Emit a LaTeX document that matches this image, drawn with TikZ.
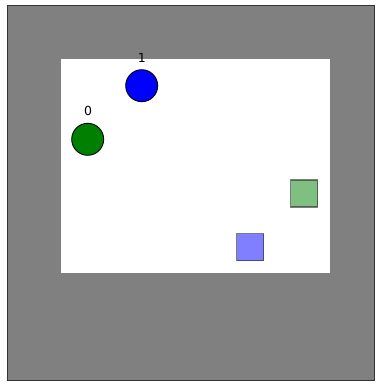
\documentclass[tikz,border=0pt]{standalone}
\usepackage{fontspec}
\setmainfont{DejaVu Sans}
\begin{document}
\begin{tikzpicture}[x=1pt,y=-1pt,
  agent/.style={circle,draw=black,line width=0.9pt,minimum size=32pt,inner sep=0pt},
  goal/.style={rectangle,draw,line width=1.1pt,minimum size=27pt,inner sep=0pt,fill opacity=0.5,draw opacity=0.6},
  lbl/.style={font=\fontsize{12.5}{13}\selectfont,inner sep=0pt}]
\useasboundingbox (0,0) rectangle (375,382);
\fill[white] (0,0) rectangle (375,382);
\node[draw=black!80,fill=black!50,line width=0.8pt,minimum width=367pt,minimum height=375pt,inner sep=0pt] (frame) at (190.5,193) {};
\node[fill=white,minimum width=269pt,minimum height=214pt,inner sep=0pt] (arena) at (195.5,166) {};
\node[goal,fill={rgb,255:red,0;green,128;blue,0},draw=black!85] (g0) at (304,193.5) {};
\node[goal,fill={rgb,255:red,0;green,0;blue,255},draw=black!85] (g1) at (250,247) {};
\node[agent,fill={rgb,255:red,0;green,128;blue,0}] (a0) at (87.7,139.3) {};
\node[agent,fill={rgb,255:red,0;green,0;blue,255}] (a1) at (141.7,85.7) {};
\node[lbl] (l0) at (88,111) {0};
\node[lbl] (l1) at (141.8,57.5) {1};
\end{tikzpicture}
\end{document}
